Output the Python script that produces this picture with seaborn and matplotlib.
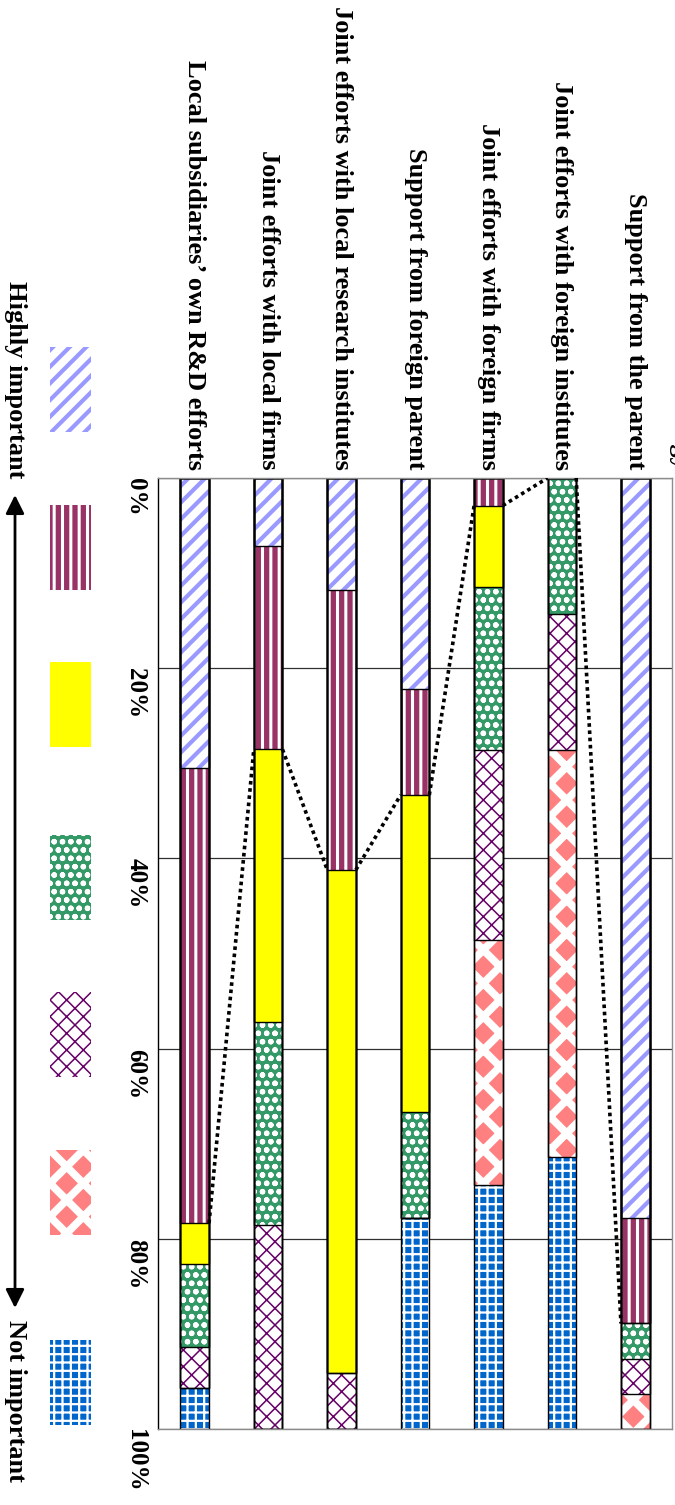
import numpy as np
import pandas as pd
import matplotlib
matplotlib.use("Agg")
import matplotlib.pyplot as plt
from matplotlib.patches import Rectangle
import seaborn as sns

# Sources of technology, share of respondents (%) by importance level
categories = [
    "Local subsidiaries\u2019 own R&D efforts",
    "Joint efforts with local firms",
    "Joint efforts with local research institutes",
    "Support from foreign parent",
    "Joint efforts with foreign firms",
    "Joint efforts with foreign institutes",
    "Support from the parent",
]
level_1 = [30.4, 7.1, 11.8, 22.2, 0.0, 0.0, 77.8]   # highly important
level_2 = [47.8, 21.4, 29.4, 11.1, 2.9, 0.0, 11.1]
level_3 = [4.3, 28.6, 52.9, 33.3, 8.6, 0.0, 0.0]
level_4 = [8.7, 21.4, 0.0, 11.1, 17.1, 14.3, 3.7]
level_5 = [4.3, 21.4, 5.9, 0.0, 20.0, 14.3, 3.7]
level_6 = [0.0, 0.0, 0.0, 0.0, 25.7, 42.9, 3.7]
level_7 = [4.3, 0.0, 0.0, 22.2, 25.7, 28.6, 0.0]    # not important
tick_values = [0, 20, 40, 60, 80, 100]
top_label = "Highly important"
bottom_label = "Not important"
title = "Sources of technology"

# fill styles per level: face colour, hatch, hatch colour, hatch width
styles = [
    ("white", "//", "#9999FF", 3.0),
    ("#993366", "||", "white", 2.2),
    ("#FFFF00", "", None, 0.0),
    ("#339966", "oo", "white", 1.6),
    ("white", "xx", "#660066", 1.1),
    ("#FF8080", "x", "white", 5.5),
    ("#0066CC", "++", "white", 1.6),
]

sns.set_theme(style="white")
plt.rcParams["font.family"] = ["Liberation Serif", "DejaVu Serif"]
plt.rcParams["font.weight"] = "bold"
plt.rcParams["text.color"] = "black"
plt.rcParams["xtick.color"] = "black"
plt.rcParams["ytick.color"] = "black"
plt.rcParams["hatch.linewidth"] = 2.0

W, H = 675, 1505
fig = plt.figure(figsize=(W / 100, H / 100), dpi=100)
fig.patch.set_facecolor("white")

L, R, T, B = 158, 672, 478, 1429
ax = fig.add_axes([L / W, 1 - B / H, (R - L) / W, (B - T) / H])

shares = np.array([level_1, level_2, level_3, level_4, level_5, level_6, level_7])
cum = np.cumsum(shares, axis=0) / shares.sum(axis=0) * 100
bar_w = 0.39

def style_patch(p, face, hatch, hc, hlw):
    if hatch:
        p.set_hatch(hatch)
        p.set_edgecolor(hc)
        if hasattr(p, "set_hatch_linewidth"):
            p.set_hatch_linewidth(hlw)
    p.set_linewidth(0)

df = pd.DataFrame({"category": categories})
# fills: deepest cumulative level first, shallower levels painted over it
for k in range(len(styles) - 1, -1, -1):
    face, hatch, hc, hlw = styles[k]
    df["value"] = cum[k]
    n0 = len(ax.patches)
    sns.barplot(data=df, x="category", y="value", order=categories,
                color=face, saturation=1, width=bar_w, errorbar=None,
                linewidth=0, ax=ax)
    for p in ax.patches[n0:]:
        style_patch(p, face, hatch, hc, hlw)

# segment outlines
for k in range(len(styles)):
    df["value"] = cum[k]
    sns.barplot(data=df, x="category", y="value", order=categories,
                color="black", fill=False, saturation=1, width=bar_w,
                errorbar=None, linewidth=1.0, ax=ax)

# series lines joining the end of level 2 between neighbouring bars
xs, ys = [], []
for i in range(len(categories) - 1):
    xs += [i + bar_w / 2, i + 1 - bar_w / 2, np.nan]
    ys += [cum[1][i], cum[1][i + 1], np.nan]
ax.plot(xs, ys, color="black", lw=2.6, linestyle=(0, (1, 1)),
        solid_capstyle="butt", zorder=5)

ax.set_xlim(-0.5, len(categories) - 0.5)
ax.set_ylim(100, 0)
ax.set_xlabel("")
ax.set_ylabel("")
ax.set_axisbelow(True)
ax.yaxis.grid(True, color="#303030", lw=0.9)
ax.xaxis.grid(False)
for side in ["top", "right", "bottom"]:
    ax.spines[side].set_color("#8c8c8c")
    ax.spines[side].set_linewidth(1)
ax.spines["left"].set_color("black")
ax.spines["left"].set_linewidth(1)

ax.set_yticks(tick_values)
ax.set_yticklabels([f"{v}%" for v in tick_values])
ax.xaxis.tick_top()
ax.tick_params(axis="x", length=0, pad=6)
ax.tick_params(axis="y", length=0, pad=16)

for lab in ax.get_xticklabels():
    lab.set_rotation(270)
    lab.set_rotation_mode("anchor")
    lab.set_ha("right")
    lab.set_va("center")
    lab.set_fontsize(19)
    lab.set_fontweight("bold")
    lab.set_color("black")
for lab in ax.get_yticklabels():
    lab.set_rotation(270)
    lab.set_rotation_mode("anchor")
    lab.set_ha("left")
    lab.set_va("center")
    lab.set_fontsize(18)
    lab.set_fontweight("bold")
    lab.set_color("black")

# legend column on the left
lax = fig.add_axes([0, 0, L / W, 1])
lax.set_xlim(0, L)
lax.set_ylim(H, 0)
lax.axis("off")
swatch_tops = [347, 505, 662, 835, 992, 1150, 1340]
for (face, hatch, hc, hlw), y0 in zip(styles, swatch_tops):
    r = Rectangle((50, y0), 41, 85, facecolor=face)
    lax.add_patch(r)
    style_patch(r, face, hatch, hc, hlw)

lax.annotate("", xy=(15, 495), xytext=(15, 1308),
             arrowprops=dict(arrowstyle="<|-|>", color="black", lw=2,
                             mutation_scale=28, shrinkA=0, shrinkB=0))
lax.text(15, 281, top_label, rotation=270, rotation_mode="anchor",
         ha="left", va="center", fontsize=19, fontweight="bold")
lax.text(15, 1320, bottom_label, rotation=270, rotation_mode="anchor",
         ha="left", va="center", fontsize=19, fontweight="bold")

fig.text(674 / W, 1 - 470 / H, title, rotation=270, rotation_mode="anchor",
         ha="right", va="baseline", fontsize=19, fontweight="bold")

fig.savefig("out.png", dpi=100, facecolor="white")
